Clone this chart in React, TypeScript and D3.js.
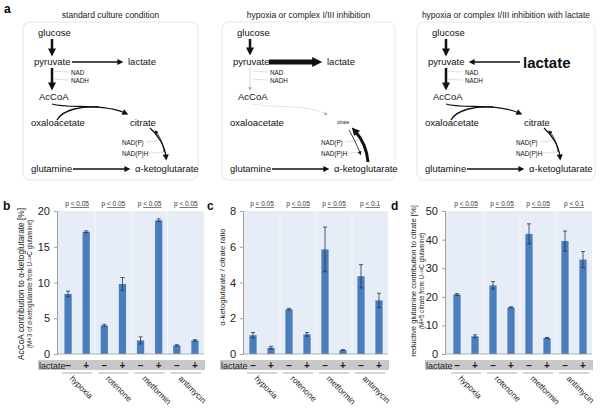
import React, { useEffect, useRef } from 'react';
import * as d3 from 'd3';

// x categories
const treatments = ['hypoxia', 'rotenone', 'metformin', 'antimycin'];
const lactateSigns = ['\u2013', '+'];

// panel b: AcCoA contribution to a-KG [%]
const acCoaMean = [8.4, 17.1, 4.0, 9.8, 1.9, 18.7, 1.2, 1.9];
const acCoaErr = [0.4, 0.12, 0.15, 0.9, 0.5, 0.2, 0.1, 0.1];
const acCoaP = ['0.05', '0.05', '0.05', '0.05'];

// panel c: a-KG / citrate ratio
const ratioMean = [1.05, 0.35, 2.5, 1.1, 5.85, 0.22, 4.35, 3.0];
const ratioErr = [0.15, 0.08, 0.05, 0.1, 1.25, 0.02, 0.65, 0.4];
const ratioP = ['0.05', '0.05', '0.05', '0.1'];

// panel d: reductive glutamine contribution to citrate [%]
const reductiveMean = [20.8, 6.2, 24.0, 16.3, 42.0, 5.6, 39.5, 33.0];
const reductiveErr = [0.3, 0.5, 1.3, 0.2, 3.5, 0.2, 3.5, 2.8];
const reductiveP = ['0.05', '0.05', '0.05', '0.1'];

const panelTitles = [
  'standard culture condition',
  'hypoxia or complex I/III inhibition',
  'hypoxia or complex I/III inhibition with lactate'
];

const FONT = '"Liberation Sans", Arial, sans-serif';
const BAR = '#4a7dbc';
const PLOT_BG = '#e7edf6';

const markers: Record<string, { w: number; h: number; color: string }> = {
  ah: { w: 7, h: 6, color: '#111' },
  ahThick: { w: 9, h: 8, color: '#111' },
  ahBig: { w: 13, h: 10, color: '#111' },
  ahSmall: { w: 4.5, h: 4, color: '#111' },
  ahGray: { w: 4, h: 3.5, color: '#aaa' }
};

function drawBarPanel(svg: any, p: any) {
  const g = svg.append('g').style('font-family', FONT);
  const keys = treatments.flatMap((t) => lactateSigns.map((s) => t + s));
  const yTop = 211;
  const yBottom = 354;

  const x = d3
    .scaleBand()
    .domain(keys)
    .range([p.bandLeft, p.plotRight])
    .paddingInner(0.6)
    .paddingOuter(0.3);
  const y = d3.scaleLinear().domain([0, p.yMax]).range([yBottom, yTop]);
  const bw = x.bandwidth();
  const cx = (k: string) => (x(k) as number) + bw / 2;

  g.append('rect')
    .attr('x', p.plotLeft)
    .attr('y', yTop)
    .attr('width', p.plotRight - p.plotLeft)
    .attr('height', yBottom - yTop)
    .attr('fill', PLOT_BG);

  // faint separators between treatments
  treatments.slice(1).forEach((t) => {
    const xs = (x(t + lactateSigns[0]) as number) - (x.step() - bw) / 2;
    g.append('line')
      .attr('x1', xs).attr('x2', xs)
      .attr('y1', yTop).attr('y2', yBottom)
      .attr('stroke', '#f4f7fb').attr('stroke-width', 1);
  });

  // bars
  keys.forEach((k, i) => {
    g.append('rect')
      .attr('x', x(k))
      .attr('y', y(p.means[i]))
      .attr('width', bw)
      .attr('height', yBottom - y(p.means[i]))
      .attr('fill', BAR);
    const lo = y(p.means[i] - p.errs[i]);
    const hi = y(p.means[i] + p.errs[i]);
    g.append('line')
      .attr('x1', cx(k)).attr('x2', cx(k)).attr('y1', lo).attr('y2', hi)
      .attr('stroke', '#1e3557').attr('stroke-width', 0.8);
    [lo, hi].forEach((yy) => {
      g.append('line')
        .attr('x1', cx(k) - 2).attr('x2', cx(k) + 2).attr('y1', yy).attr('y2', yy)
        .attr('stroke', '#1e3557').attr('stroke-width', 0.8);
    });
  });

  // x baseline
  g.append('line')
    .attr('x1', p.plotLeft).attr('x2', p.plotRight)
    .attr('y1', yBottom).attr('y2', yBottom)
    .attr('stroke', '#a0a0a0').attr('stroke-width', 0.8);

  // y axis
  const axis = g
    .append('g')
    .attr('transform', `translate(${p.plotLeft},0)`)
    .call(d3.axisLeft(y).tickValues(d3.range(0, p.yMax + p.tickStep / 2, p.tickStep)).tickSize(3).tickPadding(4));
  axis.select('.domain').attr('stroke', '#a0a0a0');
  axis.selectAll('line').attr('stroke', '#a0a0a0');
  axis.selectAll('text').attr('font-size', 11).attr('font-family', FONT).attr('fill', '#222');

  // panel letter
  g.append('text')
    .attr('x', p.letterX).attr('y', 210)
    .attr('font-size', 12).attr('font-weight', 'bold').attr('fill', '#111')
    .text(p.letter);

  // y titles
  g.append('text')
    .attr('transform', `translate(${p.titleX},${p.titleY}) rotate(-90)`)
    .attr('text-anchor', 'middle').attr('font-size', p.titleSize).attr('fill', '#222')
    .text(p.title);
  if (p.sub) {
    g.append('text')
      .attr('transform', `translate(${p.subX},${p.titleY}) rotate(-90)`)
      .attr('text-anchor', 'middle').attr('font-size', 6.3).attr('fill', '#222')
      .text(p.sub);
  }

  // p-value labels
  treatments.forEach((t, i) => {
    const c = (cx(t + lactateSigns[0]) + cx(t + lactateSigns[1])) / 2;
    const txt = g.append('text')
      .attr('x', c).attr('y', 206)
      .attr('text-anchor', 'middle').attr('font-size', 6.5).attr('fill', '#333');
    txt.append('tspan').text('p ');
    txt.append('tspan').attr('text-decoration', 'underline').text('< ' + p.pvals[i]);
  });

  // lactate row
  g.append('rect')
    .attr('x', p.bandX).attr('y', 360)
    .attr('width', p.plotRight + 1 - p.bandX).attr('height', 10)
    .attr('fill', '#c8c8c8');
  g.append('text')
    .attr('x', p.bandX + 1).attr('y', 368.5)
    .attr('font-size', 9).attr('fill', '#222')
    .text('lactate');
  keys.forEach((k, i) => {
    g.append('text')
      .attr('x', cx(k)).attr('y', 368.8)
      .attr('text-anchor', 'middle').attr('font-size', 10).attr('font-weight', 'bold').attr('fill', '#222')
      .text(lactateSigns[i % 2]);
  });

  // treatment labels
  treatments.forEach((t) => {
    const c = (cx(t + lactateSigns[0]) + cx(t + lactateSigns[1])) / 2;
    g.append('line')
      .attr('x1', c - 15).attr('x2', c + 15).attr('y1', 373).attr('y2', 373)
      .attr('stroke', '#888').attr('stroke-width', 0.7);
    g.append('text')
      .attr('transform', `translate(${c - 8},379) rotate(45)`)
      .attr('font-size', 8.3).attr('fill', '#222')
      .text(t);
  });
}

function drawPathway(svg: any, ox: number, w: number, variant: number) {
  const g = svg.append('g').attr('transform', `translate(${ox},0)`).style('font-family', FONT);

  g.append('rect')
    .attr('x', 0).attr('y', 22).attr('width', w).attr('height', 158).attr('rx', 7)
    .attr('fill', '#fff').attr('stroke', '#e6e6e6').attr('stroke-width', 1);

  g.append('text')
    .attr('x', w / 2).attr('y', 18).attr('text-anchor', 'middle')
    .attr('font-size', 8.5).attr('fill', '#222')
    .text(panelTitles[variant]);

  const label = (x: number, y: number, t: string, size = 9.5, extra?: (s: any) => void) => {
    const s = g.append('text').attr('x', x).attr('y', y).attr('font-size', size).attr('fill', '#111').text(t);
    if (extra) extra(s);
  };

  const arrow = (x1: number, y1: number, x2: number, y2: number, sw: number, m: string | null, color = '#111') => {
    let ex = x2;
    let ey = y2;
    if (m) {
      const len = Math.hypot(x2 - x1, y2 - y1);
      const k = (len - markers[m].w * 0.6) / len;
      ex = x1 + (x2 - x1) * k;
      ey = y1 + (y2 - y1) * k;
    }
    const l = g.append('line')
      .attr('x1', x1).attr('y1', y1).attr('x2', ex).attr('y2', ey)
      .attr('stroke', color).attr('stroke-width', sw);
    if (m) l.attr('marker-end', `url(#${m})`);
  };

  const curve = (d: string, sw: number, m: string | null, color = '#111') => {
    const c = g.append('path').attr('d', d).attr('fill', 'none').attr('stroke', color).attr('stroke-width', sw);
    if (m) c.attr('marker-end', `url(#${m})`);
  };

  // nodes
  label(15, 36, 'glucose');
  label(11, 65, 'pyruvate');
  if (variant === 2) {
    label(106, 68, 'lactate', 15, (s) => s.attr('font-weight', 'bold'));
  } else {
    label(105, 65, 'lactate');
  }
  label(16, 100, 'AcCoA');
  label(8, 126, 'oxaloacetate');
  if (variant === 1) {
    label(115, 124, 'citrate', 4.5);
  } else {
    label(107, 126, 'citrate');
  }
  label(8, 172, 'glutamine');
  label(112, 172, '\u03b1-ketoglutarate');
  label(48, 74.5, 'NAD', 6.3);
  label(48, 82.5, 'NADH', 6.3);
  label(99, 144.5, 'NAD(P)', 6.3);
  label(99, 155.5, 'NAD(P)H', 6.3);

  // NAD connectors
  curve('M 31 71 Q 39 72 46 72', 0.5, null, '#bbb');
  curve('M 31 79 Q 39 80 46 80', 0.5, null, '#bbb');
  curve('M 123 142 Q 130 142 137 140', 0.5, null, '#bbb');
  curve('M 125 153 Q 133 153 141 152', 0.5, null, '#bbb');

  if (variant === 1) {
    arrow(28, 39, 28, 56, 2.5, 'ahThick');
    arrow(47, 62, 102, 62, 5, 'ahBig');
    arrow(28, 68, 28, 91, 0.5, 'ahGray', '#aaa');
    curve('M 30 104 C 50 108 85 104 104 114', 0.4, 'ahGray', '#bbb');
    curve('M 146 162 C 145 150 141 140 133 131', 3, 'ahThick');
    curve('M 127 130 C 131 137 135 145 138 153', 0.8, 'ahSmall');
  } else {
    arrow(29, 39, 29, 57, 2.5, 'ahThick');
    if (variant === 0) {
      arrow(49, 62, 101, 62, 1.3, 'ah');
    } else {
      arrow(103, 62, 51, 62, 1.3, 'ah');
    }
    arrow(29, 68, 29, 91, 2.5, 'ahThick');
    curve('M 29 104 C 45 109 80 103 102 113', 1.3, 'ah');
    curve('M 34 120 C 40 109 60 106 76 107', 1.3, null);
    curve('M 127 128 C 135 135 142 146 143 157', 1.3, 'ah');
    curve('M 141 152 C 140 143 137 137 133 132', 0.8, 'ahSmall');
  }
  arrow(50, 169, 108, 169, 1.3, 'ah');
}

const App = () => {
  const ref = useRef<SVGSVGElement>(null);

  useEffect(() => {
    const svg = d3.select(ref.current);
    svg.selectAll('*').remove();

    const defs = svg.append('defs');
    Object.entries(markers).forEach(([id, m]) => {
      defs.append('marker')
        .attr('id', id)
        .attr('viewBox', '0 0 10 10')
        .attr('refX', 4).attr('refY', 5)
        .attr('markerWidth', m.w).attr('markerHeight', m.h)
        .attr('markerUnits', 'userSpaceOnUse')
        .attr('orient', 'auto')
        .append('path').attr('d', 'M0,0 L10,5 L0,10 z').attr('fill', m.color);
    });

    svg.append('text')
      .attr('x', 4).attr('y', 13)
      .attr('font-family', FONT).attr('font-size', 12).attr('font-weight', 'bold')
      .text('a');

    drawPathway(svg, 23, 175, 0);
    drawPathway(svg, 222, 173, 1);
    drawPathway(svg, 417, 178, 2);

    drawBarPanel(svg, {
      letter: 'b', letterX: 3,
      plotLeft: 57, plotRight: 204, bandLeft: 59, bandX: 38,
      yMax: 20, tickStep: 5,
      means: acCoaMean, errs: acCoaErr, pvals: acCoaP,
      title: 'AcCoA contribution to \u03b1-ketoglutarate [%]', titleSize: 8.3, titleX: 24, titleY: 284,
      sub: '(M+3 of \u03b1-ketoglutarate from U-\u00b9\u00b3C glutamine)', subX: 32
    });
    drawBarPanel(svg, {
      letter: 'c', letterX: 207,
      plotLeft: 243, plotRight: 388, bandLeft: 244, bandX: 220,
      yMax: 8, tickStep: 2,
      means: ratioMean, errs: ratioErr, pvals: ratioP,
      title: '\u03b1-ketoglutarate / citrate ratio', titleSize: 7.8, titleX: 225, titleY: 277
    });
    drawBarPanel(svg, {
      letter: 'd', letterX: 391,
      plotLeft: 445, plotRight: 592, bandLeft: 448, bandX: 425,
      yMax: 50, tickStep: 10,
      means: reductiveMean, errs: reductiveErr, pvals: reductiveP,
      title: 'reductive glutamine contribution to citrate [%]', titleSize: 7.6, titleX: 416, titleY: 281,
      sub: '(M+5 citrate from U-\u00b9\u00b3C glutamine)', subX: 424
    });
  }, []);

  return (
    <svg
      ref={ref}
      width={605}
      height={408}
      style={{ position: 'absolute', left: 0, top: 0, background: '#fff' }}
    />
  );
};

export default App;
